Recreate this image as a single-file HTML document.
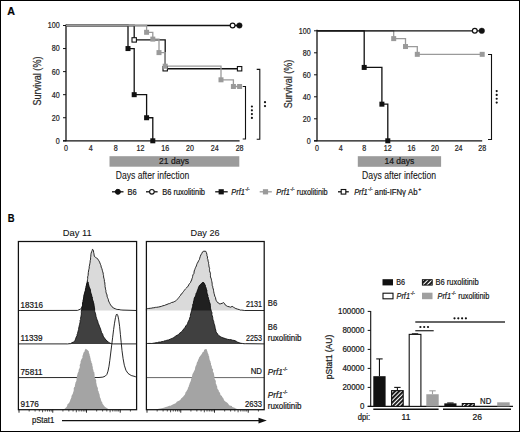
<!DOCTYPE html>
<html><head><meta charset="utf-8"><style>
html,body{margin:0;padding:0;background:#fff;width:520px;height:432px;overflow:hidden}
svg text{font-family:"Liberation Sans", sans-serif;stroke:#222;stroke-width:0.22px}
.frame{position:absolute;left:0;top:0;width:518px;height:430px;border:1px solid #000}
</style></head><body>
<svg width="520" height="432" viewBox="0 0 520 432" style="display:block"><g font-family='"Liberation Sans", sans-serif'><rect x="0" y="0" width="520" height="432" fill="#fff"/><text x="7.20" y="14.80" font-size="11.6" text-anchor="start" fill="#000" font-weight="bold" textLength="7.7" lengthAdjust="spacingAndGlyphs" >A</text><line x1="66.00" y1="24.50" x2="66.00" y2="141.30" stroke="#111" stroke-width="1.3"/><line x1="63.00" y1="140.80" x2="239.60" y2="140.80" stroke="#111" stroke-width="1.3"/><line x1="63.00" y1="140.80" x2="66.00" y2="140.80" stroke="#111" stroke-width="1"/><text x="59.70" y="143.70" font-size="8.6" text-anchor="end" fill="#222" textLength="3.95" lengthAdjust="spacingAndGlyphs" >0</text><line x1="63.00" y1="117.74" x2="66.00" y2="117.74" stroke="#111" stroke-width="1"/><text x="59.70" y="120.64" font-size="8.6" text-anchor="end" fill="#222" textLength="7.9" lengthAdjust="spacingAndGlyphs" >20</text><line x1="63.00" y1="94.68" x2="66.00" y2="94.68" stroke="#111" stroke-width="1"/><text x="59.70" y="97.58" font-size="8.6" text-anchor="end" fill="#222" textLength="7.9" lengthAdjust="spacingAndGlyphs" >40</text><line x1="63.00" y1="71.62" x2="66.00" y2="71.62" stroke="#111" stroke-width="1"/><text x="59.70" y="74.52" font-size="8.6" text-anchor="end" fill="#222" textLength="7.9" lengthAdjust="spacingAndGlyphs" >60</text><line x1="63.00" y1="48.56" x2="66.00" y2="48.56" stroke="#111" stroke-width="1"/><text x="59.70" y="51.46" font-size="8.6" text-anchor="end" fill="#222" textLength="7.9" lengthAdjust="spacingAndGlyphs" >80</text><line x1="63.00" y1="25.50" x2="66.00" y2="25.50" stroke="#111" stroke-width="1"/><text x="59.70" y="28.40" font-size="8.6" text-anchor="end" fill="#222" textLength="11.850000000000001" lengthAdjust="spacingAndGlyphs" >100</text><text x="66.00" y="151.00" font-size="8.6" text-anchor="middle" fill="#222" textLength="3.95" lengthAdjust="spacingAndGlyphs" >0</text><text x="90.80" y="151.00" font-size="8.6" text-anchor="middle" fill="#222" textLength="3.95" lengthAdjust="spacingAndGlyphs" >4</text><text x="115.60" y="151.00" font-size="8.6" text-anchor="middle" fill="#222" textLength="3.95" lengthAdjust="spacingAndGlyphs" >8</text><text x="140.40" y="151.00" font-size="8.6" text-anchor="middle" fill="#222" textLength="7.9" lengthAdjust="spacingAndGlyphs" >12</text><text x="165.20" y="151.00" font-size="8.6" text-anchor="middle" fill="#222" textLength="7.9" lengthAdjust="spacingAndGlyphs" >16</text><text x="190.00" y="151.00" font-size="8.6" text-anchor="middle" fill="#222" textLength="7.9" lengthAdjust="spacingAndGlyphs" >20</text><text x="214.80" y="151.00" font-size="8.6" text-anchor="middle" fill="#222" textLength="7.9" lengthAdjust="spacingAndGlyphs" >24</text><text x="239.60" y="151.00" font-size="8.6" text-anchor="middle" fill="#222" textLength="7.9" lengthAdjust="spacingAndGlyphs" >28</text><text transform="translate(40.5,81) rotate(-90)" font-size="10" text-anchor="middle" fill="#333" textLength="49" lengthAdjust="spacingAndGlyphs">Survival (%)</text><polyline points="66.00,25.50 239.60,25.50" fill="none" stroke="#111" stroke-width="1.3"/><polyline points="66.00,25.50 134.20,25.50 134.20,39.91 165.20,39.91 165.20,68.74 239.60,68.74" fill="none" stroke="#111" stroke-width="1.3"/><polyline points="66.00,25.50 128.00,25.50 128.00,48.56 134.20,48.56 134.20,94.68 146.60,94.68 146.60,117.74 152.80,117.74 152.80,140.80 152.80,140.80" fill="none" stroke="#111" stroke-width="1.3"/><polyline points="66.00,25.50 146.60,25.50 146.60,32.30 152.80,32.30 152.80,39.11 159.00,39.11 159.00,52.60 165.20,52.60 165.20,66.20 221.00,66.20 221.00,79.81 233.40,79.81 233.40,86.49 239.60,86.49" fill="none" stroke="#9a9a9a" stroke-width="1.3"/><rect x="125.50" y="46.06" width="5" height="5" fill="#111"/><rect x="131.70" y="92.18" width="5" height="5" fill="#111"/><rect x="144.10" y="115.24" width="5" height="5" fill="#111"/><rect x="150.30" y="138.30" width="5" height="5" fill="#111"/><rect x="132.00" y="37.71" width="4.4" height="4.4" fill="#fff" stroke="#111" stroke-width="1.1"/><rect x="163.00" y="66.54" width="4.4" height="4.4" fill="#fff" stroke="#111" stroke-width="1.1"/><rect x="237.40" y="66.54" width="4.4" height="4.4" fill="#fff" stroke="#111" stroke-width="1.1"/><rect x="144.10" y="29.80" width="5" height="5" fill="#9a9a9a"/><rect x="150.30" y="36.61" width="5" height="5" fill="#9a9a9a"/><rect x="156.50" y="50.10" width="5" height="5" fill="#9a9a9a"/><rect x="162.70" y="63.70" width="5" height="5" fill="#9a9a9a"/><rect x="218.50" y="77.31" width="5" height="5" fill="#9a9a9a"/><rect x="230.90" y="83.99" width="5" height="5" fill="#9a9a9a"/><rect x="237.10" y="83.99" width="5" height="5" fill="#9a9a9a"/><circle cx="232.60" cy="25.50" r="2.4" fill="#fff" stroke="#111" stroke-width="1.2"/><circle cx="239.40" cy="25.50" r="2.8" fill="#111" stroke="#111" stroke-width="0.4"/><polyline points="242.7,86.5 245.5,86.5 245.5,139 242.7,139" fill="none" stroke="#111" stroke-width="1.1"/><polyline points="256.7,69.4 259.8,69.4 259.8,139.3 256.7,139.3" fill="none" stroke="#111" stroke-width="1.1"/><circle cx="251.9" cy="106.5" r="1.1" fill="#111"/><circle cx="251.9" cy="110.3" r="1.1" fill="#111"/><circle cx="251.9" cy="114.1" r="1.1" fill="#111"/><circle cx="251.9" cy="117.9" r="1.1" fill="#111"/><circle cx="265" cy="102.2" r="1.1" fill="#111"/><circle cx="265" cy="106.1" r="1.1" fill="#111"/><rect x="109.5" y="156.2" width="129.8" height="10.5" fill="#9b9b9b"/><text x="174.00" y="164.30" font-size="8.5" text-anchor="middle" fill="#111" >21 days</text><text x="152.50" y="178.80" font-size="10" text-anchor="middle" fill="#111" textLength="73.5" lengthAdjust="spacingAndGlyphs" style="stroke-width:0.08px" >Days after infection</text><line x1="317.00" y1="29.80" x2="317.00" y2="141.30" stroke="#111" stroke-width="1.3"/><line x1="314.00" y1="140.80" x2="482.20" y2="140.80" stroke="#111" stroke-width="1.3"/><line x1="314.00" y1="140.80" x2="317.00" y2="140.80" stroke="#111" stroke-width="1"/><text x="310.70" y="143.70" font-size="8.6" text-anchor="end" fill="#222" textLength="3.95" lengthAdjust="spacingAndGlyphs" >0</text><line x1="314.00" y1="118.80" x2="317.00" y2="118.80" stroke="#111" stroke-width="1"/><text x="310.70" y="121.70" font-size="8.6" text-anchor="end" fill="#222" textLength="7.9" lengthAdjust="spacingAndGlyphs" >20</text><line x1="314.00" y1="96.80" x2="317.00" y2="96.80" stroke="#111" stroke-width="1"/><text x="310.70" y="99.70" font-size="8.6" text-anchor="end" fill="#222" textLength="7.9" lengthAdjust="spacingAndGlyphs" >40</text><line x1="314.00" y1="74.80" x2="317.00" y2="74.80" stroke="#111" stroke-width="1"/><text x="310.70" y="77.70" font-size="8.6" text-anchor="end" fill="#222" textLength="7.9" lengthAdjust="spacingAndGlyphs" >60</text><line x1="314.00" y1="52.80" x2="317.00" y2="52.80" stroke="#111" stroke-width="1"/><text x="310.70" y="55.70" font-size="8.6" text-anchor="end" fill="#222" textLength="7.9" lengthAdjust="spacingAndGlyphs" >80</text><line x1="314.00" y1="30.80" x2="317.00" y2="30.80" stroke="#111" stroke-width="1"/><text x="310.70" y="33.70" font-size="8.6" text-anchor="end" fill="#222" textLength="11.850000000000001" lengthAdjust="spacingAndGlyphs" >100</text><text x="317.00" y="151.00" font-size="8.6" text-anchor="middle" fill="#222" textLength="3.95" lengthAdjust="spacingAndGlyphs" >0</text><text x="340.60" y="151.00" font-size="8.6" text-anchor="middle" fill="#222" textLength="3.95" lengthAdjust="spacingAndGlyphs" >4</text><text x="364.20" y="151.00" font-size="8.6" text-anchor="middle" fill="#222" textLength="3.95" lengthAdjust="spacingAndGlyphs" >8</text><text x="387.80" y="151.00" font-size="8.6" text-anchor="middle" fill="#222" textLength="7.9" lengthAdjust="spacingAndGlyphs" >12</text><text x="411.40" y="151.00" font-size="8.6" text-anchor="middle" fill="#222" textLength="7.9" lengthAdjust="spacingAndGlyphs" >16</text><text x="435.00" y="151.00" font-size="8.6" text-anchor="middle" fill="#222" textLength="7.9" lengthAdjust="spacingAndGlyphs" >20</text><text x="458.60" y="151.00" font-size="8.6" text-anchor="middle" fill="#222" textLength="7.9" lengthAdjust="spacingAndGlyphs" >24</text><text x="482.20" y="151.00" font-size="8.6" text-anchor="middle" fill="#222" textLength="7.9" lengthAdjust="spacingAndGlyphs" >28</text><text transform="translate(292,84) rotate(-90)" font-size="10" text-anchor="middle" fill="#333" textLength="48.6" lengthAdjust="spacingAndGlyphs">Survival (%)</text><polyline points="317.00,30.80 393.70,30.80 393.70,38.61 405.50,38.61 405.50,46.53 417.30,46.53 417.30,54.34 482.20,54.34" fill="none" stroke="#9a9a9a" stroke-width="1.3"/><polyline points="317.00,30.80 364.20,30.80 364.20,67.43 381.90,67.43 381.90,104.17 387.80,104.17 387.80,140.80 387.80,140.80" fill="none" stroke="#111" stroke-width="1.3"/><polyline points="317.00,30.80 482.20,30.80" fill="none" stroke="#111" stroke-width="1.3"/><rect x="361.70" y="64.93" width="5" height="5" fill="#111"/><rect x="379.40" y="101.67" width="5" height="5" fill="#111"/><rect x="385.30" y="138.30" width="5" height="5" fill="#111"/><rect x="391.20" y="36.11" width="5" height="5" fill="#9a9a9a"/><rect x="403.00" y="44.03" width="5" height="5" fill="#9a9a9a"/><rect x="414.80" y="51.84" width="5" height="5" fill="#9a9a9a"/><rect x="479.70" y="51.84" width="5" height="5" fill="#9a9a9a"/><circle cx="474.80" cy="30.80" r="2.4" fill="#fff" stroke="#111" stroke-width="1.2"/><circle cx="481.80" cy="30.80" r="2.8" fill="#111" stroke="#111" stroke-width="0.4"/><polyline points="488,54.5 491.5,54.5 491.5,139.5 488,139.5" fill="none" stroke="#111" stroke-width="1.1"/><circle cx="496.7" cy="91.1" r="1.1" fill="#111"/><circle cx="496.7" cy="94.9" r="1.1" fill="#111"/><circle cx="496.7" cy="98.75" r="1.1" fill="#111"/><circle cx="496.7" cy="102.6" r="1.1" fill="#111"/><rect x="357.8" y="156.2" width="83.3" height="10.6" fill="#9b9b9b"/><text x="399.40" y="164.30" font-size="8.5" text-anchor="middle" fill="#111" >14 days</text><text x="399.10" y="178.60" font-size="10" text-anchor="middle" fill="#111" textLength="74" lengthAdjust="spacingAndGlyphs" style="stroke-width:0.08px" >Days after infection</text><line x1="112" y1="191.8" x2="123.5" y2="191.8" stroke="#111" stroke-width="1.3"/><circle cx="117.90" cy="191.80" r="2.5" fill="#111" stroke="#111" stroke-width="1"/><text x="127.60" y="194.70" font-size="8.6" text-anchor="start" fill="#111" textLength="9.2" lengthAdjust="spacingAndGlyphs" >B6</text><line x1="146" y1="191.8" x2="157.6" y2="191.8" stroke="#111" stroke-width="1.3"/><circle cx="151.90" cy="191.80" r="2.3" fill="#fff" stroke="#111" stroke-width="1.1"/><text x="162.20" y="194.70" font-size="8.6" text-anchor="start" fill="#111" textLength="42.8" lengthAdjust="spacingAndGlyphs" >B6 ruxolitinib</text><line x1="215.2" y1="191.8" x2="227.7" y2="191.8" stroke="#111" stroke-width="1.3"/><rect x="218.60" y="189.20" width="5.2" height="5.2" fill="#111"/><text x="231.3" y="194.70000000000002" font-size="8.6" fill="#111"><tspan font-style="italic" textLength="13.5" lengthAdjust="spacingAndGlyphs">Prf1</tspan><tspan font-size="4.8" dy="-3.5" dx="0.4">-/-</tspan></text><line x1="259.7" y1="191.8" x2="271.8" y2="191.8" stroke="#9a9a9a" stroke-width="1.3"/><rect x="262.90" y="189.20" width="5.2" height="5.2" fill="#9a9a9a"/><text x="276.3" y="194.70000000000002" font-size="8.6" fill="#111"><tspan font-style="italic" textLength="13.5" lengthAdjust="spacingAndGlyphs">Prf1</tspan><tspan font-size="4.8" dy="-3.5" dx="0.4">-/-</tspan></text><text x="296.80" y="194.70" font-size="8.6" text-anchor="start" fill="#111" textLength="30.9" lengthAdjust="spacingAndGlyphs" >ruxolitinib</text><line x1="338" y1="191.8" x2="348.8" y2="191.8" stroke="#111" stroke-width="1.3"/><rect x="341.20" y="189.50" width="4.6" height="4.6" fill="#fff" stroke="#111" stroke-width="1.1"/><text x="354.2" y="194.70000000000002" font-size="8.6" fill="#111"><tspan font-style="italic" textLength="13.5" lengthAdjust="spacingAndGlyphs">Prf1</tspan><tspan font-size="4.8" dy="-3.5" dx="0.4">-/-</tspan></text><text x="374.60" y="194.70" font-size="8.6" text-anchor="start" fill="#111" textLength="43" lengthAdjust="spacingAndGlyphs" >anti-IFNγ Ab</text><text x="418.20" y="191.20" font-size="5.2" text-anchor="start" fill="#111" >+</text><text x="7.70" y="221.70" font-size="11.4" text-anchor="start" fill="#000" font-weight="bold" textLength="6.8" lengthAdjust="spacingAndGlyphs" >B</text><text x="77.20" y="236.10" font-size="9.6" text-anchor="middle" fill="#111" textLength="29" lengthAdjust="spacingAndGlyphs" style="stroke-width:0.08px" >Day 11</text><text x="205.10" y="236.10" font-size="9.6" text-anchor="middle" fill="#111" textLength="29" lengthAdjust="spacingAndGlyphs" style="stroke-width:0.08px" >Day 26</text><defs><clipPath id="c1"><rect x="18.4" y="241.5" width="118.19999999999999" height="69.0"/></clipPath><clipPath id="c2"><rect x="146.4" y="241.5" width="117.79999999999998" height="69.0"/></clipPath><pattern id="hatch" width="3" height="3" patternUnits="userSpaceOnUse" patternTransform="rotate(45)"><rect width="3" height="3" fill="#fff"/><rect width="1.9" height="3" fill="#111"/></pattern></defs><path d="M18.40,310.50 L77.50,310.40 L78.80,309.80 L80.20,309.20 L81.50,308.20 L81.91,307.00 L82.50,306.00 L82.91,304.54 L83.18,303.29 L83.50,302.00 L83.60,300.63 L83.92,299.23 L84.26,297.75 L84.80,296.50 L85.00,295.30 L85.09,293.82 L85.58,292.73 L85.80,291.27 L86.00,290.00 L86.42,288.58 L86.55,287.37 L86.37,286.04 L86.64,284.96 L86.76,283.61 L87.10,282.30 L87.37,280.96 L87.52,279.57 L87.70,278.40 L87.65,276.85 L88.12,275.44 L88.20,274.00 L88.31,272.56 L88.58,271.01 L88.80,269.60 L89.21,268.16 L89.21,266.62 L89.60,265.10 L89.81,263.75 L90.11,262.10 L90.20,260.70 L90.64,259.09 L90.56,257.78 L90.80,256.20 L90.89,254.73 L91.10,253.32 L91.60,251.80 L92.13,250.62 L92.40,249.40 L93.00,249.60 L93.49,250.89 L93.60,252.30 L93.93,253.63 L94.11,254.89 L94.30,256.20 L95.40,257.30 L96.60,257.90 L97.70,259.00 L98.80,260.70 L99.52,261.93 L99.90,262.90 L100.44,264.35 L101.00,265.70 L101.18,267.11 L101.80,268.40 L102.32,270.25 L102.70,271.80 L103.16,273.04 L103.24,274.45 L103.60,275.70 L103.59,276.99 L103.90,278.19 L104.30,279.60 L104.38,281.38 L104.90,283.00 L104.83,284.16 L105.09,285.59 L105.05,286.70 L105.40,288.08 L105.50,289.20 L105.91,290.48 L105.89,291.52 L106.18,292.84 L106.50,293.90 L107.08,294.95 L107.04,296.12 L107.42,297.35 L107.90,298.50 L108.38,299.66 L108.52,300.94 L109.20,302.20 L109.83,303.57 L110.60,304.90 L112.00,306.80 L113.90,308.20 L115.48,308.81 L116.60,309.30 L117.84,309.50 L119.15,309.50 L120.30,309.80 L121.73,309.98 L122.95,310.09 L124.00,310.10 L136.60,310.50 Z" fill="#dadada" stroke="none"/><path d="M18.40,310.50 L77.50,310.40 L78.80,309.80 L80.20,309.20 L81.50,308.20 L81.91,307.00 L82.50,306.00 L82.91,304.54 L83.18,303.29 L83.50,302.00 L83.60,300.63 L83.92,299.23 L84.26,297.75 L84.80,296.50 L85.00,295.30 L85.09,293.82 L85.58,292.73 L85.80,291.27 L86.00,290.00 L86.42,288.58 L86.55,287.37 L86.37,286.04 L86.64,284.96 L86.76,283.61 L87.10,282.30 L87.37,280.96 L87.52,279.57 L87.70,278.40 L87.65,276.85 L88.12,275.44 L88.20,274.00 L88.31,272.56 L88.58,271.01 L88.80,269.60 L89.21,268.16 L89.21,266.62 L89.60,265.10 L89.81,263.75 L90.11,262.10 L90.20,260.70 L90.64,259.09 L90.56,257.78 L90.80,256.20 L90.89,254.73 L91.10,253.32 L91.60,251.80 L92.13,250.62 L92.40,249.40 L93.00,249.60 L93.49,250.89 L93.60,252.30 L93.93,253.63 L94.11,254.89 L94.30,256.20 L95.40,257.30 L96.60,257.90 L97.70,259.00 L98.80,260.70 L99.52,261.93 L99.90,262.90 L100.44,264.35 L101.00,265.70 L101.18,267.11 L101.80,268.40 L102.32,270.25 L102.70,271.80 L103.16,273.04 L103.24,274.45 L103.60,275.70 L103.59,276.99 L103.90,278.19 L104.30,279.60 L104.38,281.38 L104.90,283.00 L104.83,284.16 L105.09,285.59 L105.05,286.70 L105.40,288.08 L105.50,289.20 L105.91,290.48 L105.89,291.52 L106.18,292.84 L106.50,293.90 L107.08,294.95 L107.04,296.12 L107.42,297.35 L107.90,298.50 L108.38,299.66 L108.52,300.94 L109.20,302.20 L109.83,303.57 L110.60,304.90 L112.00,306.80 L113.90,308.20 L115.48,308.81 L116.60,309.30 L117.84,309.50 L119.15,309.50 L120.30,309.80 L121.73,309.98 L122.95,310.09 L124.00,310.10 L136.60,310.50" fill="none" stroke="#111" stroke-width="0.9"/><path d="M18.40,343.90 L66.00,343.90 L67.43,343.94 L68.95,343.76 L70.70,343.60 L71.79,342.76 L73.55,341.98 L74.60,341.30 L75.15,340.19 L75.54,339.10 L75.89,338.10 L76.31,336.82 L77.00,335.80 L77.08,334.47 L77.59,333.40 L77.90,331.90 L78.16,330.91 L78.60,329.50 L78.62,328.28 L79.02,327.03 L79.24,325.78 L79.56,324.50 L79.80,323.20 L80.22,321.96 L80.06,320.55 L80.68,319.42 L80.53,318.29 L80.90,316.90 L81.10,315.55 L81.41,314.00 L81.31,312.75 L81.36,311.30 L81.70,309.80 L81.70,308.46 L82.20,307.13 L82.47,305.60 L82.50,304.20 L82.57,302.84 L82.95,301.68 L82.95,300.54 L83.38,299.22 L83.60,297.90 L83.72,296.56 L83.88,295.33 L84.26,294.10 L84.58,292.96 L84.90,291.60 L85.40,290.24 L85.45,288.98 L85.88,287.96 L85.95,286.64 L86.40,285.30 L86.70,283.99 L87.33,282.92 L87.60,281.80 L88.20,282.20 L88.34,283.73 L88.80,285.30 L89.07,286.45 L89.57,287.63 L90.04,288.76 L90.40,290.00 L90.50,291.16 L90.80,292.57 L91.23,293.93 L91.60,295.18 L91.90,296.40 L92.46,297.55 L92.30,298.85 L92.80,300.26 L93.30,301.48 L93.50,302.80 L93.92,303.88 L94.03,305.18 L94.24,306.36 L94.47,307.81 L94.66,308.99 L94.60,310.20 L94.74,311.56 L95.17,312.50 L95.55,313.84 L95.79,314.95 L95.91,316.30 L96.38,317.37 L96.70,318.70 L97.13,320.05 L97.73,321.25 L98.03,322.50 L98.40,323.73 L99.00,325.10 L99.45,326.26 L100.07,327.72 L100.50,328.80 L100.85,330.20 L101.40,331.50 L101.66,332.76 L102.45,333.74 L102.88,334.77 L103.10,335.99 L103.70,337.10 L104.62,338.12 L105.05,339.08 L106.30,340.10 L106.90,341.00 L108.15,341.88 L108.83,342.41 L110.00,343.20 L111.62,343.69 L113.20,343.90 L136.60,343.90 Z" fill="#404040" stroke="none"/><path d="M18.40,343.90 L66.00,343.90 L67.43,343.94 L68.95,343.76 L70.70,343.60 L71.79,342.76 L73.55,341.98 L74.60,341.30 L75.15,340.19 L75.54,339.10 L75.89,338.10 L76.31,336.82 L77.00,335.80 L77.08,334.47 L77.59,333.40 L77.90,331.90 L78.16,330.91 L78.60,329.50 L78.62,328.28 L79.02,327.03 L79.24,325.78 L79.56,324.50 L79.80,323.20 L80.22,321.96 L80.06,320.55 L80.68,319.42 L80.53,318.29 L80.90,316.90 L81.10,315.55 L81.41,314.00 L81.31,312.75 L81.36,311.30 L81.70,309.80 L81.70,308.46 L82.20,307.13 L82.47,305.60 L82.50,304.20 L82.57,302.84 L82.95,301.68 L82.95,300.54 L83.38,299.22 L83.60,297.90 L83.72,296.56 L83.88,295.33 L84.26,294.10 L84.58,292.96 L84.90,291.60 L85.40,290.24 L85.45,288.98 L85.88,287.96 L85.95,286.64 L86.40,285.30 L86.70,283.99 L87.33,282.92 L87.60,281.80 L88.20,282.20 L88.34,283.73 L88.80,285.30 L89.07,286.45 L89.57,287.63 L90.04,288.76 L90.40,290.00 L90.50,291.16 L90.80,292.57 L91.23,293.93 L91.60,295.18 L91.90,296.40 L92.46,297.55 L92.30,298.85 L92.80,300.26 L93.30,301.48 L93.50,302.80 L93.92,303.88 L94.03,305.18 L94.24,306.36 L94.47,307.81 L94.66,308.99 L94.60,310.20 L94.74,311.56 L95.17,312.50 L95.55,313.84 L95.79,314.95 L95.91,316.30 L96.38,317.37 L96.70,318.70 L97.13,320.05 L97.73,321.25 L98.03,322.50 L98.40,323.73 L99.00,325.10 L99.45,326.26 L100.07,327.72 L100.50,328.80 L100.85,330.20 L101.40,331.50 L101.66,332.76 L102.45,333.74 L102.88,334.77 L103.10,335.99 L103.70,337.10 L104.62,338.12 L105.05,339.08 L106.30,340.10 L106.90,341.00 L108.15,341.88 L108.83,342.41 L110.00,343.20 L111.62,343.69 L113.20,343.90 L136.60,343.90 Z" fill="#202020" stroke="none" clip-path="url(#c1)"/><path d="M18.40,343.90 L66.00,343.90 L67.43,343.94 L68.95,343.76 L70.70,343.60 L71.79,342.76 L73.55,341.98 L74.60,341.30 L75.15,340.19 L75.54,339.10 L75.89,338.10 L76.31,336.82 L77.00,335.80 L77.08,334.47 L77.59,333.40 L77.90,331.90 L78.16,330.91 L78.60,329.50 L78.62,328.28 L79.02,327.03 L79.24,325.78 L79.56,324.50 L79.80,323.20 L80.22,321.96 L80.06,320.55 L80.68,319.42 L80.53,318.29 L80.90,316.90 L81.10,315.55 L81.41,314.00 L81.31,312.75 L81.36,311.30 L81.70,309.80 L81.70,308.46 L82.20,307.13 L82.47,305.60 L82.50,304.20 L82.57,302.84 L82.95,301.68 L82.95,300.54 L83.38,299.22 L83.60,297.90 L83.72,296.56 L83.88,295.33 L84.26,294.10 L84.58,292.96 L84.90,291.60 L85.40,290.24 L85.45,288.98 L85.88,287.96 L85.95,286.64 L86.40,285.30 L86.70,283.99 L87.33,282.92 L87.60,281.80 L88.20,282.20 L88.34,283.73 L88.80,285.30 L89.07,286.45 L89.57,287.63 L90.04,288.76 L90.40,290.00 L90.50,291.16 L90.80,292.57 L91.23,293.93 L91.60,295.18 L91.90,296.40 L92.46,297.55 L92.30,298.85 L92.80,300.26 L93.30,301.48 L93.50,302.80 L93.92,303.88 L94.03,305.18 L94.24,306.36 L94.47,307.81 L94.66,308.99 L94.60,310.20 L94.74,311.56 L95.17,312.50 L95.55,313.84 L95.79,314.95 L95.91,316.30 L96.38,317.37 L96.70,318.70 L97.13,320.05 L97.73,321.25 L98.03,322.50 L98.40,323.73 L99.00,325.10 L99.45,326.26 L100.07,327.72 L100.50,328.80 L100.85,330.20 L101.40,331.50 L101.66,332.76 L102.45,333.74 L102.88,334.77 L103.10,335.99 L103.70,337.10 L104.62,338.12 L105.05,339.08 L106.30,340.10 L106.90,341.00 L108.15,341.88 L108.83,342.41 L110.00,343.20 L111.62,343.69 L113.20,343.90 L136.60,343.90" fill="none" stroke="#111" stroke-width="0.9"/><path d="M146.40,310.50 L146.40,308.90 L147.50,308.60 L148.75,308.45 L150.28,308.31 L151.80,308.10 L153.11,307.72 L153.91,307.84 L155.31,307.39 L156.70,307.30 L158.58,306.99 L160.00,306.69 L161.30,306.40 L162.90,305.72 L164.39,305.49 L165.80,304.80 L166.97,304.50 L168.22,303.82 L169.43,303.64 L170.40,303.20 L171.53,302.50 L173.19,302.19 L174.20,301.70 L175.39,301.09 L176.42,300.34 L177.30,299.40 L177.99,298.53 L178.79,297.58 L179.60,296.40 L180.62,295.28 L180.85,294.38 L182.18,293.52 L182.60,292.60 L183.46,291.54 L184.16,290.60 L184.82,289.71 L185.70,288.70 L186.51,287.92 L187.33,286.98 L188.20,286.06 L188.70,284.90 L189.59,283.49 L190.49,282.56 L191.00,281.10 L191.68,279.98 L191.95,278.68 L192.43,277.68 L192.60,276.50 L192.95,274.82 L193.85,273.71 L194.10,272.00 L194.19,270.98 L194.79,269.55 L195.08,268.66 L195.60,267.40 L196.36,265.94 L196.68,264.68 L197.10,263.60 L198.05,261.98 L198.70,260.50 L199.47,259.44 L199.70,258.18 L200.20,256.70 L200.82,254.97 L201.70,253.60 L202.60,251.80 L203.80,251.20 L205.80,251.30 L206.42,252.65 L206.90,254.40 L206.96,255.71 L207.53,256.96 L207.40,258.60 L208.00,259.80 L208.05,261.21 L208.64,262.19 L208.51,263.47 L208.82,264.72 L208.90,265.90 L209.14,267.17 L209.61,268.34 L209.45,269.65 L209.52,270.70 L209.90,272.00 L210.45,273.23 L210.37,274.23 L210.50,275.69 L210.44,276.93 L211.00,278.10 L211.33,279.14 L211.57,280.53 L211.85,281.70 L212.10,283.08 L212.20,284.20 L212.13,285.24 L212.84,286.83 L212.81,287.84 L213.30,289.00 L213.50,290.30 L213.74,291.75 L214.08,293.41 L214.50,294.90 L214.76,296.20 L215.49,297.40 L215.75,299.05 L216.10,300.30 L216.72,301.33 L217.60,302.60 L218.96,303.24 L219.90,304.10 L220.83,303.67 L222.20,303.30 L223.70,302.60 L224.59,303.58 L225.20,304.90 L226.23,305.58 L227.50,306.40 L229.28,306.77 L230.60,307.20 L232.10,306.40 L233.50,307.01 L234.40,307.90 L235.84,308.56 L237.50,309.10 L239.27,309.58 L240.50,310.10 L241.57,310.07 L243.05,310.24 L244.30,310.50 L264.20,310.50 Z" fill="#dadada" stroke="none"/><path d="M146.40,310.50 L146.40,308.90 L147.50,308.60 L148.75,308.45 L150.28,308.31 L151.80,308.10 L153.11,307.72 L153.91,307.84 L155.31,307.39 L156.70,307.30 L158.58,306.99 L160.00,306.69 L161.30,306.40 L162.90,305.72 L164.39,305.49 L165.80,304.80 L166.97,304.50 L168.22,303.82 L169.43,303.64 L170.40,303.20 L171.53,302.50 L173.19,302.19 L174.20,301.70 L175.39,301.09 L176.42,300.34 L177.30,299.40 L177.99,298.53 L178.79,297.58 L179.60,296.40 L180.62,295.28 L180.85,294.38 L182.18,293.52 L182.60,292.60 L183.46,291.54 L184.16,290.60 L184.82,289.71 L185.70,288.70 L186.51,287.92 L187.33,286.98 L188.20,286.06 L188.70,284.90 L189.59,283.49 L190.49,282.56 L191.00,281.10 L191.68,279.98 L191.95,278.68 L192.43,277.68 L192.60,276.50 L192.95,274.82 L193.85,273.71 L194.10,272.00 L194.19,270.98 L194.79,269.55 L195.08,268.66 L195.60,267.40 L196.36,265.94 L196.68,264.68 L197.10,263.60 L198.05,261.98 L198.70,260.50 L199.47,259.44 L199.70,258.18 L200.20,256.70 L200.82,254.97 L201.70,253.60 L202.60,251.80 L203.80,251.20 L205.80,251.30 L206.42,252.65 L206.90,254.40 L206.96,255.71 L207.53,256.96 L207.40,258.60 L208.00,259.80 L208.05,261.21 L208.64,262.19 L208.51,263.47 L208.82,264.72 L208.90,265.90 L209.14,267.17 L209.61,268.34 L209.45,269.65 L209.52,270.70 L209.90,272.00 L210.45,273.23 L210.37,274.23 L210.50,275.69 L210.44,276.93 L211.00,278.10 L211.33,279.14 L211.57,280.53 L211.85,281.70 L212.10,283.08 L212.20,284.20 L212.13,285.24 L212.84,286.83 L212.81,287.84 L213.30,289.00 L213.50,290.30 L213.74,291.75 L214.08,293.41 L214.50,294.90 L214.76,296.20 L215.49,297.40 L215.75,299.05 L216.10,300.30 L216.72,301.33 L217.60,302.60 L218.96,303.24 L219.90,304.10 L220.83,303.67 L222.20,303.30 L223.70,302.60 L224.59,303.58 L225.20,304.90 L226.23,305.58 L227.50,306.40 L229.28,306.77 L230.60,307.20 L232.10,306.40 L233.50,307.01 L234.40,307.90 L235.84,308.56 L237.50,309.10 L239.27,309.58 L240.50,310.10 L241.57,310.07 L243.05,310.24 L244.30,310.50 L264.20,310.50" fill="none" stroke="#111" stroke-width="0.9"/><path d="M146.40,343.90 L146.40,343.70 L147.54,343.48 L148.94,343.42 L150.04,343.42 L151.85,343.49 L152.90,343.30 L154.59,342.97 L155.99,342.75 L157.50,342.60 L158.84,342.12 L160.40,342.09 L162.10,341.60 L163.47,341.39 L164.63,340.84 L165.51,340.67 L166.80,340.30 L168.64,339.88 L170.20,339.20 L171.59,338.52 L172.60,338.20 L173.70,337.60 L174.84,336.72 L175.95,335.92 L177.10,335.30 L178.33,334.66 L179.06,333.69 L180.00,333.00 L181.21,332.06 L182.16,331.19 L182.90,330.10 L183.67,329.10 L184.49,328.14 L185.20,327.20 L185.76,325.96 L186.92,324.70 L187.50,323.70 L187.83,322.41 L188.57,321.05 L189.30,319.70 L189.65,318.11 L190.33,316.52 L190.40,315.10 L190.75,313.46 L191.28,311.95 L191.60,310.50 L191.79,309.41 L192.04,308.17 L192.67,306.83 L192.70,305.80 L192.74,304.38 L193.46,303.19 L193.44,301.76 L193.90,300.50 L194.04,299.32 L194.29,298.24 L194.90,297.00 L195.58,296.00 L195.92,294.85 L195.93,293.44 L196.94,292.46 L197.10,291.20 L197.51,290.22 L198.09,289.03 L198.36,287.67 L198.91,286.51 L199.40,285.50 L200.48,284.52 L201.70,283.20 L203.00,282.30 L203.80,282.60 L204.50,283.87 L205.40,285.50 L205.43,286.60 L206.17,287.89 L206.17,289.01 L206.89,290.35 L206.90,291.60 L207.02,292.66 L207.23,293.92 L207.91,295.13 L207.82,296.48 L208.40,297.70 L208.65,299.23 L209.20,300.40 L209.25,301.76 L209.91,303.07 L210.32,304.44 L210.30,305.80 L210.45,307.19 L210.62,308.62 L211.05,310.22 L211.50,311.50 L212.00,312.95 L211.82,314.31 L212.25,315.74 L212.70,317.30 L212.81,318.88 L213.04,320.04 L213.78,321.67 L213.80,323.10 L214.47,324.49 L214.79,326.01 L215.10,327.46 L215.30,328.80 L215.76,330.02 L216.06,331.67 L216.70,332.90 L217.71,334.02 L218.14,334.89 L219.00,335.80 L220.63,336.70 L221.90,337.50 L223.79,338.06 L225.30,338.60 L226.76,339.00 L227.89,339.42 L229.40,339.60 L231.21,339.71 L232.75,340.30 L234.00,340.40 L235.23,340.80 L236.51,341.40 L237.40,342.10 L238.85,342.56 L239.47,342.78 L240.90,343.30 L242.51,343.46 L244.11,343.72 L245.50,343.70 L264.20,343.90 Z" fill="#404040" stroke="none"/><path d="M146.40,343.90 L146.40,343.70 L147.54,343.48 L148.94,343.42 L150.04,343.42 L151.85,343.49 L152.90,343.30 L154.59,342.97 L155.99,342.75 L157.50,342.60 L158.84,342.12 L160.40,342.09 L162.10,341.60 L163.47,341.39 L164.63,340.84 L165.51,340.67 L166.80,340.30 L168.64,339.88 L170.20,339.20 L171.59,338.52 L172.60,338.20 L173.70,337.60 L174.84,336.72 L175.95,335.92 L177.10,335.30 L178.33,334.66 L179.06,333.69 L180.00,333.00 L181.21,332.06 L182.16,331.19 L182.90,330.10 L183.67,329.10 L184.49,328.14 L185.20,327.20 L185.76,325.96 L186.92,324.70 L187.50,323.70 L187.83,322.41 L188.57,321.05 L189.30,319.70 L189.65,318.11 L190.33,316.52 L190.40,315.10 L190.75,313.46 L191.28,311.95 L191.60,310.50 L191.79,309.41 L192.04,308.17 L192.67,306.83 L192.70,305.80 L192.74,304.38 L193.46,303.19 L193.44,301.76 L193.90,300.50 L194.04,299.32 L194.29,298.24 L194.90,297.00 L195.58,296.00 L195.92,294.85 L195.93,293.44 L196.94,292.46 L197.10,291.20 L197.51,290.22 L198.09,289.03 L198.36,287.67 L198.91,286.51 L199.40,285.50 L200.48,284.52 L201.70,283.20 L203.00,282.30 L203.80,282.60 L204.50,283.87 L205.40,285.50 L205.43,286.60 L206.17,287.89 L206.17,289.01 L206.89,290.35 L206.90,291.60 L207.02,292.66 L207.23,293.92 L207.91,295.13 L207.82,296.48 L208.40,297.70 L208.65,299.23 L209.20,300.40 L209.25,301.76 L209.91,303.07 L210.32,304.44 L210.30,305.80 L210.45,307.19 L210.62,308.62 L211.05,310.22 L211.50,311.50 L212.00,312.95 L211.82,314.31 L212.25,315.74 L212.70,317.30 L212.81,318.88 L213.04,320.04 L213.78,321.67 L213.80,323.10 L214.47,324.49 L214.79,326.01 L215.10,327.46 L215.30,328.80 L215.76,330.02 L216.06,331.67 L216.70,332.90 L217.71,334.02 L218.14,334.89 L219.00,335.80 L220.63,336.70 L221.90,337.50 L223.79,338.06 L225.30,338.60 L226.76,339.00 L227.89,339.42 L229.40,339.60 L231.21,339.71 L232.75,340.30 L234.00,340.40 L235.23,340.80 L236.51,341.40 L237.40,342.10 L238.85,342.56 L239.47,342.78 L240.90,343.30 L242.51,343.46 L244.11,343.72 L245.50,343.70 L264.20,343.90 Z" fill="#202020" stroke="none" clip-path="url(#c2)"/><path d="M146.40,343.90 L146.40,343.70 L147.54,343.48 L148.94,343.42 L150.04,343.42 L151.85,343.49 L152.90,343.30 L154.59,342.97 L155.99,342.75 L157.50,342.60 L158.84,342.12 L160.40,342.09 L162.10,341.60 L163.47,341.39 L164.63,340.84 L165.51,340.67 L166.80,340.30 L168.64,339.88 L170.20,339.20 L171.59,338.52 L172.60,338.20 L173.70,337.60 L174.84,336.72 L175.95,335.92 L177.10,335.30 L178.33,334.66 L179.06,333.69 L180.00,333.00 L181.21,332.06 L182.16,331.19 L182.90,330.10 L183.67,329.10 L184.49,328.14 L185.20,327.20 L185.76,325.96 L186.92,324.70 L187.50,323.70 L187.83,322.41 L188.57,321.05 L189.30,319.70 L189.65,318.11 L190.33,316.52 L190.40,315.10 L190.75,313.46 L191.28,311.95 L191.60,310.50 L191.79,309.41 L192.04,308.17 L192.67,306.83 L192.70,305.80 L192.74,304.38 L193.46,303.19 L193.44,301.76 L193.90,300.50 L194.04,299.32 L194.29,298.24 L194.90,297.00 L195.58,296.00 L195.92,294.85 L195.93,293.44 L196.94,292.46 L197.10,291.20 L197.51,290.22 L198.09,289.03 L198.36,287.67 L198.91,286.51 L199.40,285.50 L200.48,284.52 L201.70,283.20 L203.00,282.30 L203.80,282.60 L204.50,283.87 L205.40,285.50 L205.43,286.60 L206.17,287.89 L206.17,289.01 L206.89,290.35 L206.90,291.60 L207.02,292.66 L207.23,293.92 L207.91,295.13 L207.82,296.48 L208.40,297.70 L208.65,299.23 L209.20,300.40 L209.25,301.76 L209.91,303.07 L210.32,304.44 L210.30,305.80 L210.45,307.19 L210.62,308.62 L211.05,310.22 L211.50,311.50 L212.00,312.95 L211.82,314.31 L212.25,315.74 L212.70,317.30 L212.81,318.88 L213.04,320.04 L213.78,321.67 L213.80,323.10 L214.47,324.49 L214.79,326.01 L215.10,327.46 L215.30,328.80 L215.76,330.02 L216.06,331.67 L216.70,332.90 L217.71,334.02 L218.14,334.89 L219.00,335.80 L220.63,336.70 L221.90,337.50 L223.79,338.06 L225.30,338.60 L226.76,339.00 L227.89,339.42 L229.40,339.60 L231.21,339.71 L232.75,340.30 L234.00,340.40 L235.23,340.80 L236.51,341.40 L237.40,342.10 L238.85,342.56 L239.47,342.78 L240.90,343.30 L242.51,343.46 L244.11,343.72 L245.50,343.70 L264.20,343.90" fill="none" stroke="#111" stroke-width="0.9"/><path d="M18.40,377.60 L99.00,377.50 L102.90,377.10 L105.30,376.10 L106.90,374.40 L108.00,371.10 L109.00,366.20 L109.80,360.40 L110.60,354.00 L111.60,345.90 L112.60,337.80 L113.60,329.60 L114.50,323.20 L115.50,317.50 L116.30,314.60 L117.10,314.20 L117.90,315.80 L118.70,319.80 L119.60,326.30 L120.40,334.40 L121.20,342.50 L122.00,350.60 L123.10,358.70 L124.30,365.20 L125.90,370.20 L128.00,373.40 L131.20,375.50 L135.30,376.60 L136.60,377.60" fill="none" stroke="#111" stroke-width="0.9"/><line x1="146.4" y1="377.6" x2="264.2" y2="377.6" stroke="#666" stroke-width="1"/><path d="M63.00,409.80 L64.35,409.02 L65.50,408.00 L66.49,407.09 L67.19,405.95 L67.37,404.61 L68.50,403.50 L69.48,402.32 L70.07,400.81 L70.35,399.63 L71.00,398.50 L71.46,397.32 L71.45,395.92 L72.08,395.04 L72.89,393.46 L73.10,392.40 L73.65,390.98 L73.83,389.74 L73.65,388.85 L74.13,387.30 L75.07,386.37 L74.83,385.17 L75.35,383.79 L75.40,382.68 L76.10,381.45 L76.58,379.89 L76.47,378.58 L76.90,377.50 L76.92,376.06 L77.36,375.08 L77.43,373.89 L78.00,372.48 L78.70,371.32 L78.60,370.09 L79.22,368.65 L79.75,367.40 L79.87,366.57 L79.60,365.30 L80.18,363.97 L80.60,362.70 L80.59,361.17 L81.12,360.29 L81.51,358.88 L82.49,357.66 L82.40,356.06 L82.93,354.95 L83.30,353.50 L83.59,352.44 L84.74,351.32 L84.73,350.19 L85.70,348.80 L87.50,350.00 L88.90,351.60 L88.87,352.76 L89.59,354.27 L89.67,355.50 L90.14,356.44 L90.25,357.61 L90.70,359.00 L90.67,360.06 L91.47,361.71 L91.36,362.48 L92.33,363.95 L92.18,365.04 L92.64,366.56 L92.84,367.60 L92.83,369.07 L93.50,370.10 L93.39,371.29 L94.30,372.31 L94.48,373.89 L94.66,375.01 L94.51,376.03 L94.81,377.42 L95.19,378.43 L96.01,379.81 L96.26,380.81 L96.13,382.14 L96.39,383.12 L96.59,384.24 L96.84,385.84 L97.20,386.80 L97.90,388.04 L97.87,389.09 L97.88,390.24 L98.77,391.70 L98.77,392.85 L99.44,393.98 L99.69,395.20 L99.78,396.35 L100.05,397.43 L100.78,398.71 L100.90,399.80 L101.39,401.31 L102.32,402.44 L102.46,403.72 L103.50,405.00 L104.35,406.18 L105.60,407.20 L106.80,408.12 L108.18,408.88 L109.30,409.50 Z" fill="#a4a4a4" stroke="none"/><path d="M155.20,409.70 L156.79,409.56 L157.84,408.94 L158.74,408.85 L160.49,408.58 L161.73,408.27 L162.97,407.98 L164.50,407.50 L165.86,407.07 L166.83,406.83 L167.67,406.38 L169.37,405.84 L170.52,405.68 L171.40,405.20 L172.86,404.54 L173.33,404.21 L175.12,403.45 L176.00,402.90 L176.78,401.86 L178.42,401.04 L179.86,400.32 L180.60,399.40 L181.11,398.52 L182.04,397.70 L183.32,396.51 L183.86,395.64 L184.79,394.82 L185.30,393.60 L185.44,392.38 L186.52,391.19 L187.08,389.93 L187.91,389.01 L187.79,387.94 L188.70,386.70 L188.91,385.39 L189.45,384.20 L189.59,383.45 L190.41,381.84 L190.87,380.69 L191.00,379.80 L191.23,378.85 L191.87,377.36 L192.04,376.24 L192.20,375.40 L192.52,373.93 L193.30,372.80 L193.92,371.59 L194.53,370.36 L194.93,369.56 L195.05,368.41 L195.25,367.23 L195.70,365.90 L196.43,364.75 L196.59,363.69 L197.00,362.20 L197.76,361.13 L198.00,360.10 L198.67,359.11 L199.06,357.56 L199.70,356.73 L200.59,355.41 L201.40,354.40 L202.06,353.61 L202.58,352.31 L203.84,351.40 L203.99,350.31 L204.90,349.30 L206.50,349.10 L207.20,350.90 L207.51,351.86 L207.75,353.11 L208.46,354.28 L208.66,355.78 L209.22,356.62 L209.26,357.75 L209.50,359.00 L209.79,360.14 L210.53,361.54 L210.46,362.18 L210.99,363.36 L210.99,364.90 L211.80,365.90 L211.78,367.33 L212.33,368.77 L213.10,369.61 L212.84,371.40 L213.54,372.43 L214.03,373.96 L214.10,375.10 L214.42,376.41 L214.40,377.68 L214.77,379.15 L215.51,380.22 L215.86,381.53 L215.72,383.15 L216.40,384.40 L216.75,385.77 L217.28,386.81 L217.21,388.03 L217.56,389.06 L218.69,390.37 L218.70,391.30 L219.75,392.43 L220.27,393.78 L220.47,395.02 L221.87,395.91 L222.20,397.10 L223.33,398.22 L223.75,399.51 L224.43,400.71 L225.70,401.70 L226.98,402.46 L227.80,403.23 L228.57,404.21 L229.10,405.20 L230.69,405.74 L231.83,406.10 L232.25,407.10 L233.80,407.50 L235.07,408.07 L235.68,408.42 L237.13,408.91 L238.40,409.70 Z" fill="#a4a4a4" stroke="none"/><rect x="18.4" y="241.5" width="118.20" height="168.20" fill="none" stroke="#111" stroke-width="1.25"/><line x1="19.00" y1="409.7" x2="19.00" y2="412.7" stroke="#111" stroke-width="0.9"/><line x1="29.16" y1="409.7" x2="29.16" y2="411.5" stroke="#222" stroke-width="0.8"/><line x1="35.10" y1="409.7" x2="35.10" y2="411.5" stroke="#222" stroke-width="0.8"/><line x1="39.32" y1="409.7" x2="39.32" y2="411.5" stroke="#222" stroke-width="0.8"/><line x1="42.59" y1="409.7" x2="42.59" y2="412.3" stroke="#222" stroke-width="0.8"/><line x1="45.26" y1="409.7" x2="45.26" y2="411.5" stroke="#222" stroke-width="0.8"/><line x1="47.52" y1="409.7" x2="47.52" y2="411.5" stroke="#222" stroke-width="0.8"/><line x1="49.48" y1="409.7" x2="49.48" y2="411.5" stroke="#222" stroke-width="0.8"/><line x1="51.21" y1="409.7" x2="51.21" y2="411.5" stroke="#222" stroke-width="0.8"/><line x1="52.75" y1="409.7" x2="52.75" y2="412.7" stroke="#111" stroke-width="0.9"/><line x1="62.91" y1="409.7" x2="62.91" y2="411.5" stroke="#222" stroke-width="0.8"/><line x1="68.85" y1="409.7" x2="68.85" y2="411.5" stroke="#222" stroke-width="0.8"/><line x1="73.07" y1="409.7" x2="73.07" y2="411.5" stroke="#222" stroke-width="0.8"/><line x1="76.34" y1="409.7" x2="76.34" y2="412.3" stroke="#222" stroke-width="0.8"/><line x1="79.01" y1="409.7" x2="79.01" y2="411.5" stroke="#222" stroke-width="0.8"/><line x1="81.27" y1="409.7" x2="81.27" y2="411.5" stroke="#222" stroke-width="0.8"/><line x1="83.23" y1="409.7" x2="83.23" y2="411.5" stroke="#222" stroke-width="0.8"/><line x1="84.96" y1="409.7" x2="84.96" y2="411.5" stroke="#222" stroke-width="0.8"/><line x1="86.50" y1="409.7" x2="86.50" y2="412.7" stroke="#111" stroke-width="0.9"/><line x1="96.66" y1="409.7" x2="96.66" y2="411.5" stroke="#222" stroke-width="0.8"/><line x1="102.60" y1="409.7" x2="102.60" y2="411.5" stroke="#222" stroke-width="0.8"/><line x1="106.82" y1="409.7" x2="106.82" y2="411.5" stroke="#222" stroke-width="0.8"/><line x1="110.09" y1="409.7" x2="110.09" y2="412.3" stroke="#222" stroke-width="0.8"/><line x1="112.76" y1="409.7" x2="112.76" y2="411.5" stroke="#222" stroke-width="0.8"/><line x1="115.02" y1="409.7" x2="115.02" y2="411.5" stroke="#222" stroke-width="0.8"/><line x1="116.98" y1="409.7" x2="116.98" y2="411.5" stroke="#222" stroke-width="0.8"/><line x1="118.71" y1="409.7" x2="118.71" y2="411.5" stroke="#222" stroke-width="0.8"/><line x1="120.25" y1="409.7" x2="120.25" y2="412.7" stroke="#111" stroke-width="0.9"/><line x1="130.41" y1="409.7" x2="130.41" y2="411.5" stroke="#222" stroke-width="0.8"/><rect x="146.4" y="241.5" width="117.80" height="168.20" fill="none" stroke="#111" stroke-width="1.25"/><line x1="147.00" y1="409.7" x2="147.00" y2="412.7" stroke="#111" stroke-width="0.9"/><line x1="157.16" y1="409.7" x2="157.16" y2="411.5" stroke="#222" stroke-width="0.8"/><line x1="163.10" y1="409.7" x2="163.10" y2="411.5" stroke="#222" stroke-width="0.8"/><line x1="167.32" y1="409.7" x2="167.32" y2="411.5" stroke="#222" stroke-width="0.8"/><line x1="170.59" y1="409.7" x2="170.59" y2="412.3" stroke="#222" stroke-width="0.8"/><line x1="173.26" y1="409.7" x2="173.26" y2="411.5" stroke="#222" stroke-width="0.8"/><line x1="175.52" y1="409.7" x2="175.52" y2="411.5" stroke="#222" stroke-width="0.8"/><line x1="177.48" y1="409.7" x2="177.48" y2="411.5" stroke="#222" stroke-width="0.8"/><line x1="179.21" y1="409.7" x2="179.21" y2="411.5" stroke="#222" stroke-width="0.8"/><line x1="180.75" y1="409.7" x2="180.75" y2="412.7" stroke="#111" stroke-width="0.9"/><line x1="190.91" y1="409.7" x2="190.91" y2="411.5" stroke="#222" stroke-width="0.8"/><line x1="196.85" y1="409.7" x2="196.85" y2="411.5" stroke="#222" stroke-width="0.8"/><line x1="201.07" y1="409.7" x2="201.07" y2="411.5" stroke="#222" stroke-width="0.8"/><line x1="204.34" y1="409.7" x2="204.34" y2="412.3" stroke="#222" stroke-width="0.8"/><line x1="207.01" y1="409.7" x2="207.01" y2="411.5" stroke="#222" stroke-width="0.8"/><line x1="209.27" y1="409.7" x2="209.27" y2="411.5" stroke="#222" stroke-width="0.8"/><line x1="211.23" y1="409.7" x2="211.23" y2="411.5" stroke="#222" stroke-width="0.8"/><line x1="212.96" y1="409.7" x2="212.96" y2="411.5" stroke="#222" stroke-width="0.8"/><line x1="214.50" y1="409.7" x2="214.50" y2="412.7" stroke="#111" stroke-width="0.9"/><line x1="224.66" y1="409.7" x2="224.66" y2="411.5" stroke="#222" stroke-width="0.8"/><line x1="230.60" y1="409.7" x2="230.60" y2="411.5" stroke="#222" stroke-width="0.8"/><line x1="234.82" y1="409.7" x2="234.82" y2="411.5" stroke="#222" stroke-width="0.8"/><line x1="238.09" y1="409.7" x2="238.09" y2="412.3" stroke="#222" stroke-width="0.8"/><line x1="240.76" y1="409.7" x2="240.76" y2="411.5" stroke="#222" stroke-width="0.8"/><line x1="243.02" y1="409.7" x2="243.02" y2="411.5" stroke="#222" stroke-width="0.8"/><line x1="244.98" y1="409.7" x2="244.98" y2="411.5" stroke="#222" stroke-width="0.8"/><line x1="246.71" y1="409.7" x2="246.71" y2="411.5" stroke="#222" stroke-width="0.8"/><line x1="248.25" y1="409.7" x2="248.25" y2="412.7" stroke="#111" stroke-width="0.9"/><line x1="258.41" y1="409.7" x2="258.41" y2="411.5" stroke="#222" stroke-width="0.8"/><text x="20.60" y="307.60" font-size="8.7" text-anchor="start" fill="#111" textLength="22.4" lengthAdjust="spacingAndGlyphs" >18316</text><text x="20.60" y="340.80" font-size="8.7" text-anchor="start" fill="#111" textLength="22.0" lengthAdjust="spacingAndGlyphs" >11339</text><text x="20.60" y="375.40" font-size="8.7" text-anchor="start" fill="#111" textLength="22.0" lengthAdjust="spacingAndGlyphs" >75811</text><text x="20.60" y="407.30" font-size="8.7" text-anchor="start" fill="#111" textLength="18.2" lengthAdjust="spacingAndGlyphs" >9176</text><text x="262.00" y="307.40" font-size="8.7" text-anchor="end" fill="#111" textLength="16.0" lengthAdjust="spacingAndGlyphs" >2131</text><text x="262.00" y="341.00" font-size="8.7" text-anchor="end" fill="#111" textLength="16.0" lengthAdjust="spacingAndGlyphs" >2253</text><text x="262.00" y="374.20" font-size="8.7" text-anchor="end" fill="#111" textLength="11.3" lengthAdjust="spacingAndGlyphs" >ND</text><text x="262.00" y="406.60" font-size="8.7" text-anchor="end" fill="#111" textLength="17.0" lengthAdjust="spacingAndGlyphs" >2633</text><text x="267.80" y="305.80" font-size="8.3" text-anchor="start" fill="#111" textLength="9.4" lengthAdjust="spacingAndGlyphs" >B6</text><text x="267.80" y="329.50" font-size="8.3" text-anchor="start" fill="#111" textLength="9.4" lengthAdjust="spacingAndGlyphs" >B6</text><text x="267.80" y="341.00" font-size="8.3" text-anchor="start" fill="#111" textLength="33.6" lengthAdjust="spacingAndGlyphs" >ruxolitinib</text><text x="267.8" y="374.5" font-size="8.3" fill="#111"><tspan font-style="italic" textLength="15" lengthAdjust="spacingAndGlyphs">Prf1</tspan><tspan font-size="5" dy="-3.4">-/-</tspan></text><text x="267.8" y="397.5" font-size="8.3" fill="#111"><tspan font-style="italic" textLength="15" lengthAdjust="spacingAndGlyphs">Prf1</tspan><tspan font-size="5" dy="-3.4">-/-</tspan></text><text x="267.80" y="408.70" font-size="8.3" text-anchor="start" fill="#111" textLength="33.6" lengthAdjust="spacingAndGlyphs" >ruxolitinib</text><text x="31.90" y="423.30" font-size="9" text-anchor="start" fill="#111" textLength="22.3" lengthAdjust="spacingAndGlyphs" >pStat1</text><line x1="62" y1="420.6" x2="260" y2="420.6" stroke="#111" stroke-width="1.1"/><path d="M258.5,417.8 L266.8,420.6 L258.5,423.4 Z" fill="#111"/><line x1="370.7" y1="310.90" x2="370.7" y2="406.9" stroke="#111" stroke-width="1.1"/><line x1="367.7" y1="406.4" x2="513" y2="406.4" stroke="#111" stroke-width="1.1"/><line x1="367.7" y1="406.40" x2="370.7" y2="406.40" stroke="#111" stroke-width="1"/><text x="364.40" y="409.40" font-size="8.7" text-anchor="end" fill="#111" textLength="4.4" lengthAdjust="spacingAndGlyphs" >0</text><line x1="367.7" y1="387.40" x2="370.7" y2="387.40" stroke="#111" stroke-width="1"/><text x="364.40" y="390.40" font-size="8.7" text-anchor="end" fill="#111" textLength="22.0" lengthAdjust="spacingAndGlyphs" >20000</text><line x1="367.7" y1="368.40" x2="370.7" y2="368.40" stroke="#111" stroke-width="1"/><text x="364.40" y="371.40" font-size="8.7" text-anchor="end" fill="#111" textLength="22.0" lengthAdjust="spacingAndGlyphs" >40000</text><line x1="367.7" y1="349.40" x2="370.7" y2="349.40" stroke="#111" stroke-width="1"/><text x="364.40" y="352.40" font-size="8.7" text-anchor="end" fill="#111" textLength="22.0" lengthAdjust="spacingAndGlyphs" >60000</text><line x1="367.7" y1="330.40" x2="370.7" y2="330.40" stroke="#111" stroke-width="1"/><text x="364.40" y="333.40" font-size="8.7" text-anchor="end" fill="#111" textLength="22.0" lengthAdjust="spacingAndGlyphs" >80000</text><line x1="367.7" y1="311.40" x2="370.7" y2="311.40" stroke="#111" stroke-width="1"/><text x="364.40" y="314.40" font-size="8.7" text-anchor="end" fill="#111" textLength="26.400000000000002" lengthAdjust="spacingAndGlyphs" >100000</text><text transform="translate(331.8,357) rotate(-90)" font-size="9.5" text-anchor="middle" fill="#111" textLength="44.5" lengthAdjust="spacingAndGlyphs">pStat1 (AU)</text><line x1="379.45" y1="358.90" x2="379.45" y2="376.19" stroke="#111" stroke-width="1.1"/><line x1="376.25" y1="358.90" x2="382.65" y2="358.90" stroke="#111" stroke-width="1.1"/><rect x="373.30" y="376.19" width="12.30" height="30.21" fill="#111"/><line x1="397.40" y1="387.40" x2="397.40" y2="390.63" stroke="#111" stroke-width="1.1"/><line x1="394.20" y1="387.40" x2="400.60" y2="387.40" stroke="#111" stroke-width="1.1"/><rect x="391.60" y="390.63" width="11.60" height="15.77" fill="url(#hatch)" stroke="#111" stroke-width="1.1"/><line x1="415.05" y1="333.82" x2="415.05" y2="334.38" stroke="#111" stroke-width="1.1"/><line x1="411.85" y1="333.82" x2="418.25" y2="333.82" stroke="#111" stroke-width="1.1"/><rect x="409.20" y="334.38" width="11.70" height="72.02" fill="#fff" stroke="#111" stroke-width="1.1"/><line x1="432.50" y1="390.82" x2="432.50" y2="394.24" stroke="#a0a0a0" stroke-width="1.1"/><line x1="429.30" y1="390.82" x2="435.70" y2="390.82" stroke="#a0a0a0" stroke-width="1.1"/><rect x="426.30" y="394.24" width="12.40" height="12.16" fill="#a0a0a0"/><line x1="450.40" y1="402.98" x2="450.40" y2="403.36" stroke="#111" stroke-width="1.1"/><line x1="447.20" y1="402.98" x2="453.60" y2="402.98" stroke="#111" stroke-width="1.1"/><rect x="444.30" y="403.36" width="12.20" height="3.04" fill="#111"/><rect x="462.30" y="403.55" width="12.00" height="2.85" fill="url(#hatch)" stroke="#111" stroke-width="1.1"/><rect x="497.20" y="402.31" width="12.50" height="4.08" fill="#a0a0a0"/><text x="485.70" y="404.40" font-size="8.6" text-anchor="middle" fill="#111" textLength="11.2" lengthAdjust="spacingAndGlyphs" >ND</text><line x1="373.3" y1="409.3" x2="438.6" y2="409.3" stroke="#111" stroke-width="1.5"/><line x1="443" y1="409.3" x2="511" y2="409.3" stroke="#111" stroke-width="1.5"/><text x="364.00" y="419.80" font-size="8.5" text-anchor="middle" fill="#111" textLength="12.4" lengthAdjust="spacingAndGlyphs" >dpi:</text><text x="406.00" y="419.80" font-size="8.5" text-anchor="middle" fill="#111" >11</text><text x="477.20" y="419.80" font-size="8.5" text-anchor="middle" fill="#111" >26</text><line x1="415.3" y1="330.7" x2="433.7" y2="330.7" stroke="#333" stroke-width="1.3"/><line x1="415.3" y1="322.0" x2="505" y2="322.0" stroke="#333" stroke-width="1.3"/><circle cx="420.40" cy="327.00" r="1.1" fill="#111"/><circle cx="424.20" cy="327.00" r="1.1" fill="#111"/><circle cx="428.00" cy="327.00" r="1.1" fill="#111"/><circle cx="454.50" cy="318.30" r="1.1" fill="#111"/><circle cx="458.30" cy="318.30" r="1.1" fill="#111"/><circle cx="462.10" cy="318.30" r="1.1" fill="#111"/><circle cx="465.90" cy="318.30" r="1.1" fill="#111"/><rect x="382.5" y="279.2" width="10.5" height="6.2" fill="#111"/><text x="396.20" y="285.20" font-size="8.6" text-anchor="start" fill="#111" textLength="8.8" lengthAdjust="spacingAndGlyphs" >B6</text><rect x="422.4" y="279.7" width="9.8" height="5.4" fill="url(#hatch)" stroke="#111" stroke-width="1"/><text x="435.60" y="285.20" font-size="8.6" text-anchor="start" fill="#111" textLength="43" lengthAdjust="spacingAndGlyphs" >B6 ruxolitinib</text><rect x="383" y="293.2" width="10" height="5.6" fill="#fff" stroke="#111" stroke-width="1.1"/><text x="396.5" y="298.7" font-size="8.6" fill="#111"><tspan font-style="italic" textLength="13.5" lengthAdjust="spacingAndGlyphs">Prf1</tspan><tspan font-size="4.8" dy="-3.5" dx="0.4">-/-</tspan></text><rect x="422" y="292.7" width="10.5" height="6.5" fill="#a0a0a0"/><text x="437.5" y="298.7" font-size="8.6" fill="#111"><tspan font-style="italic" textLength="13.5" lengthAdjust="spacingAndGlyphs">Prf1</tspan><tspan font-size="4.8" dy="-3.5" dx="0.4">-/-</tspan></text><text x="458.30" y="298.70" font-size="8.6" text-anchor="start" fill="#111" textLength="31" lengthAdjust="spacingAndGlyphs" >ruxolitinib</text></g></svg>
<div class="frame"></div>
</body></html>
